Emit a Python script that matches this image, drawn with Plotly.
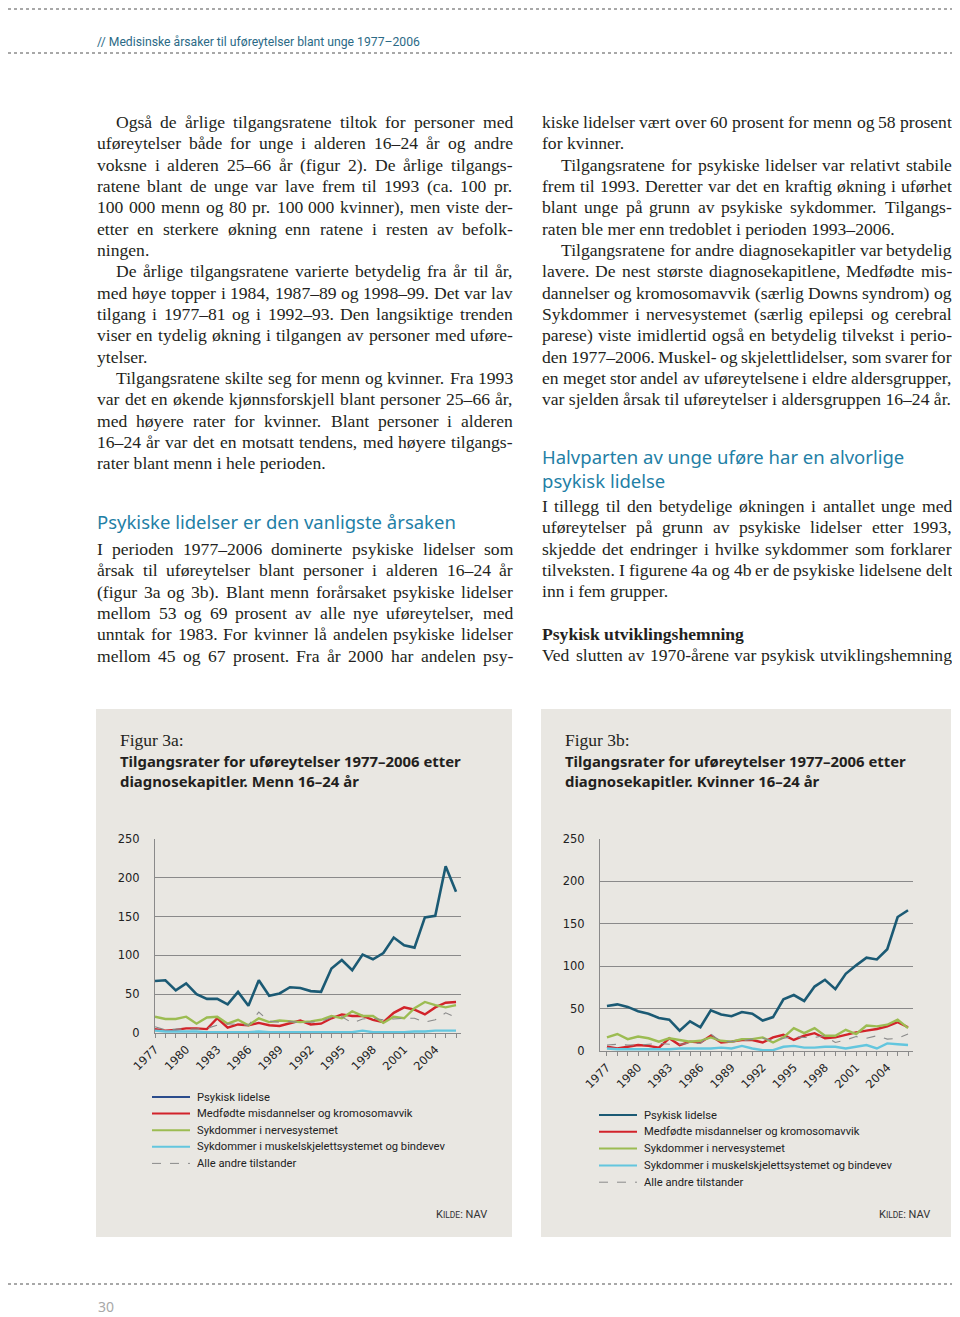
import plotly.graph_objects as go

# the page body adds an 8px margin, so the figure is drawn smaller and shifted
OFF = 8
W, H = 960 - OFF, 1317 - OFF
RIGHT_EDGE = 951  # content past ~952px is clipped by the page

years = list(range(1977, 2007))

series_names = [
    "Psykisk lidelse",
    "Medfødte misdannelser og kromosomavvik",
    "Sykdommer i nervesystemet",
    "Sykdommer i muskelskjelettsystemet og bindevev",
    "Alle andre tilstander",
]

# Figur 3a - menn 16-24 aar
menn_psykisk = [67, 68, 55, 64, 50, 44, 44, 37, 53, 35, 68, 48, 51, 59, 58, 54, 53, 83, 94, 81,
                101, 95, 103, 123, 113, 110, 149, 151, 215, 182]
menn_medfodte = [5, 3, 4, 6, 6, 5, 19, 7, 11, 10, 13, 10, 9, 13, 16, 11, 12, 19, 24, 22,
                 22, 17, 14, 26, 33, 30, 24, 33, 39, 40]
menn_nerve = [21, 18, 18, 21, 12, 20, 21, 12, 17, 10, 19, 14, 16, 15, 14, 15, 17, 22, 19, 28,
              22, 22, 13, 21, 19, 32, 40, 36, 33, 36]
menn_muskel = [3, 2, 2, 2, 2, 1, 1, 1, 1, 1, 2, 1, 1, 1, 1, 1, 1, 1, 1, 1,
               3, 1, 1, 1, 1, 2, 2, 3, 3, 3]
menn_andre = [8, 4, 5, 5, 5, 6, 10, 12, 11, 10, 27, 15, 14, 15, 13, 14, 15, 20, 21, 13,
              18, 19, 17, 18, 19, 19, 14, 17, 26, 20]

# Figur 3b - kvinner 16-24 aar
kvinner_psykisk = [53, 55, 52, 47, 44, 39, 37, 24, 35, 28, 48, 43, 41, 46, 44, 36, 40, 61, 66, 59,
                   76, 84, 73, 91, 101, 110, 108, 120, 158, 166]
kvinner_medfodte = [5, 3, 5, 7, 6, 4, 15, 7, 11, 10, 18, 10, 11, 13, 13, 10, 16, 19, 13, 18,
                    21, 15, 16, 19, 22, 24, 26, 29, 34, 28]
kvinner_nerve = [16, 20, 14, 17, 15, 11, 15, 13, 11, 12, 16, 12, 11, 14, 14, 16, 10, 16, 27, 21,
                 27, 18, 18, 25, 20, 30, 29, 31, 37, 27]
kvinner_muskel = [3, 2, 2, 2, 2, 2, 2, 3, 3, 3, 3, 4, 3, 6, 3, 1, 1, 5, 6, 4,
                  4, 5, 5, 3, 5, 7, 3, 9, 8, 7]
kvinner_andre = [7, 8, 7, 7, 8, 9, 8, 8, 9, 9, 20, 11, 11, 12, 14, 15, 12, 15, 17, 16,
                 16, 18, 10, 13, 17, 15, 18, 14, 15, 20]

y_ticks = [0, 50, 100, 150, 200, 250]

header_text = "// Medisinske årsaker til uføreytelser blant unge 1977–2006"

# (line, indented, justified)
left_block1 = [
    ("Også de årlige tilgangsratene tiltok for personer med", True, True),
    ("uføreytelser både for unge i alderen 16–24 år og andre", False, True),
    ("voksne i alderen 25–66 år (figur 2). De årlige tilgangs-", False, True),
    ("ratene blant de unge var lave frem til 1993 (ca. 100 pr.", False, True),
    ("100 000 menn og 80 pr. 100 000 kvinner), men viste der-", False, True),
    ("etter en sterkere økning enn ratene i resten av befolk-", False, True),
    ("ningen.", False, False),
    ("De årlige tilgangsratene varierte betydelig fra år til år,", True, True),
    ("med høye topper i 1984, 1987–89 og 1998–99. Det var lav", False, True),
    ("tilgang i 1977–81 og i 1992–93. Den langsiktige trenden", False, True),
    ("viser en tydelig økning i tilgangen av personer med uføre-", False, True),
    ("ytelser.", False, False),
    ("Tilgangsratene skilte seg for menn og kvinner. Fra 1993", True, True),
    ("var det en økende kjønnsforskjell blant personer 25–66 år,", False, True),
    ("med høyere rater for kvinner. Blant personer i alderen", False, True),
    ("16–24 år var det en motsatt tendens, med høyere tilgangs-", False, True),
    ("rater blant menn i hele perioden.", False, False),
]
left_heading = "Psykiske lidelser er den vanligste årsaken"
left_block2 = [
    ("I perioden 1977–2006 dominerte psykiske lidelser som", False, True),
    ("årsak til uføreytelser blant personer i alderen 16–24 år", False, True),
    ("(figur 3a og 3b). Blant menn forårsaket psykiske lidelser", False, True),
    ("mellom 53 og 69 prosent av alle nye uføreytelser, med", False, True),
    ("unntak for 1983. For kvinner lå andelen psykiske lidelser", False, True),
    ("mellom 45 og 67 prosent. Fra år 2000 har andelen psy-", False, True),
]
right_block1 = [
    ("kiske lidelser vært over 60 prosent for menn og 58 prosent", False, True),
    ("for kvinner.", False, False),
    ("Tilgangsratene for psykiske lidelser var relativt stabile", True, True),
    ("frem til 1993. Deretter var det en kraftig økning i uførhet", False, True),
    ("blant unge på grunn av psykiske sykdommer. Tilgangs-", False, True),
    ("raten ble mer enn tredoblet i perioden 1993–2006.", False, False),
    ("Tilgangsratene for andre diagnosekapitler var betydelig", True, True),
    ("lavere. De nest største diagnosekapitlene, Medfødte mis-", False, True),
    ("dannelser og kromosomavvik (særlig Downs syndrom) og", False, True),
    ("Sykdommer i nervesystemet (særlig epilepsi og cerebral", False, True),
    ("parese) viste imidlertid også en betydelig tilvekst i perio-", False, True),
    ("den 1977–2006. Muskel- og skjelettlidelser, som svarer for", False, True),
    ("en meget stor andel av uføreytelsene i eldre aldersgrupper,", False, True),
    ("var sjelden årsak til uføreytelser i aldersgruppen 16–24 år.", False, False),
]
right_heading = ["Halvparten av unge uføre har en alvorlige", "psykisk lidelse"]
right_block2 = [
    ("I tillegg til den betydelige økningen i antallet unge med", False, True),
    ("uføreytelser på grunn av psykiske lidelser etter 1993,", False, True),
    ("skjedde det endringer i hvilke sykdommer som forklarer", False, True),
    ("tilveksten. I figurene 4a og 4b er de psykiske lidelsene delt", False, True),
    ("inn i fem grupper.", False, False),
]
right_subheading = "Psykisk utviklingshemning"
right_block3 = [
    ("Ved slutten av 1970-årene var psykisk utviklingshemning", False, True),
]

fig_titles = [
    ("Figur 3a:", "Tilgangsrater for uføreytelser 1977–2006 etter", "diagnosekapitler. Menn 16–24 år"),
    ("Figur 3b:", "Tilgangsrater for uføreytelser 1977–2006 etter", "diagnosekapitler. Kvinner 16–24 år"),
]

colors = ["#1b5a74", "#d2232a", "#9cbc52", "#63c6de", "#8a8a8a"]
widths = [2.6, 2.4, 2.4, 2.4, 1.1]
dashes = ["solid", "solid", "solid", "solid", "dash"]

SERIF = "Liberation Serif, Times New Roman, serif"
SANS = "Noto Sans, DejaVu Sans, sans-serif"
NARROW = "Roboto, Noto Sans, sans-serif"
TEAL = "#1f80a6"
BOX = "#e9e7e2"
BODY = 17.6

# Times metrics (1/1000 em), used to justify the body text
TIMES_W = {" ": 250, ",": 250, ".": 250, "-": 333, "(": 333, ")": 333, ":": 278, "–": 500,
           "a": 444, "b": 500, "c": 444, "d": 500, "e": 444, "f": 333, "g": 500, "h": 500,
           "i": 278, "j": 278, "k": 500, "l": 278, "m": 778, "n": 500, "o": 500, "p": 500,
           "q": 500, "r": 333, "s": 389, "t": 278, "u": 500, "v": 500, "w": 722, "x": 500,
           "y": 500, "z": 444, "å": 444, "ø": 500, "æ": 667,
           "A": 722, "B": 667, "C": 667, "D": 722, "E": 611, "F": 556, "G": 722, "H": 722,
           "I": 333, "J": 389, "K": 722, "L": 611, "M": 889, "N": 722, "O": 722, "P": 556,
           "R": 667, "S": 556, "T": 611, "U": 722, "V": 722, "W": 944, "Y": 722}


def tw(s, size=BODY):
    return sum(TIMES_W.get(c, 500) for c in s) * size / 1000


def px(x):
    return (x - OFF) / W


def py(y):
    return 1 - (y - OFF) / H


fig = go.Figure()
annotations = []
shapes = []


def text(x, y, s, size, font=SERIF, color="#231f20", xanchor="left", yanchor="middle"):
    annotations.append(dict(
        x=px(x), y=py(y), xref="paper", yref="paper", text=s, showarrow=False,
        xanchor=xanchor, yanchor=yanchor, align="left", borderpad=0,
        font=dict(family=font, size=size, color=color),
    ))


def dotted(y):
    shapes.append(dict(type="line", xref="paper", yref="paper", x0=0, x1=1, y0=py(y), y1=py(y),
                       line=dict(color="#8c8c8c", width=1.6, dash="dot")))


def block(lines, x, x_end, y0, step=21.33):
    for i, (s, indent, just) in enumerate(lines):
        y = y0 + i * step
        xs = x + (19 if indent else 0)
        if not just:
            text(xs, y, s, BODY)
            continue
        words = s.split(" ")
        ww = [tw(w) for w in words]
        gap = (x_end - xs - sum(ww)) / (len(words) - 1)
        cx = xs
        for w, wd in zip(words, ww):
            text(cx, y, w, BODY)
            cx += wd + gap


# page header / footer
dotted(9)
dotted(53)
dotted(1284)
text(96, 42, header_text, 12.2, font="Liberation Sans Narrow, Roboto, sans-serif", color="#2b6a86")
text(97, 1306, "30", 14, font=SANS, color="#a8a8a8")

block(left_block1, 96, 512, 122)
text(96, 521, left_heading, 18.5, font=SANS, color=TEAL)
block(left_block2, 96, 512, 549)
block(right_block1, 541, RIGHT_EDGE, 122)
text(541, 468, right_heading[0] + "<br>" + right_heading[1], 18.5, font=SANS, color=TEAL)
block(right_block2, 541, RIGHT_EDGE, 506)
text(541, 634, "<b>" + right_subheading + "</b>", BODY)
block(right_block3, 541, RIGHT_EDGE, 655)

# figure panels
panels = [
    dict(box=(96, 512), x0=155, x1=461, xr=(1977, 2006.48), y0=1033, y1=839,
         data=[menn_psykisk, menn_medfodte, menn_nerve, menn_muskel, menn_andre],
         leg_x=152, leg_y=1097, leg_step=16.6, kilde_x=488, leg_first="#2b4c8c"),
    dict(box=(541, RIGHT_EDGE), x0=600, x1=913, xr=(1976.33, 2006.48), y0=1051, y1=839,
         data=[kvinner_psykisk, kvinner_medfodte, kvinner_nerve, kvinner_muskel, kvinner_andre],
         leg_x=599, leg_y=1115, leg_step=16.8, kilde_x=931, leg_first=colors[0]),
]

for k, p in enumerate(panels):
    bx0, bx1 = p["box"]
    shapes.append(dict(type="rect", xref="paper", yref="paper", layer="below",
                       x0=px(bx0), x1=px(bx1), y0=py(1237), y1=py(709),
                       fillcolor=BOX, line=dict(width=0)))
    t0, t1, t2 = fig_titles[k]
    text(bx0 + 23, 740, t0, 17.5)
    text(bx0 + 23, 761, "<b>" + t1 + "</b>", 14.9, font=SANS)
    text(bx0 + 23, 781, "<b>" + t2 + "</b>", 14.9, font=SANS)

    sfx = "" if k == 0 else "2"
    for i, vals in enumerate(p["data"]):
        fig.add_trace(go.Scatter(
            x=years, y=vals, mode="lines", name=series_names[i], showlegend=False,
            line=dict(color=colors[i], width=widths[i], dash=dashes[i]),
            xaxis="x" + sfx, yaxis="y" + sfx,
        ))

    xa = dict(
        domain=[px(p["x0"]), px(p["x1"])], range=list(p["xr"]), anchor="y" + sfx,
        automargin=False,
        tickmode="array", tickvals=years,
        ticktext=[str(y) if (y - 1977) % 3 == 0 else "" for y in years],
        tickangle=-45, ticks="outside", ticklen=4, tickcolor="#8a8a8a",
        showline=True, linecolor="#8a8a8a", linewidth=1.2, showgrid=False, zeroline=False,
        tickfont=dict(family="DejaVu Sans, sans-serif", size=11.5, color="#222"),
    )
    ya = dict(
        domain=[py(p["y0"]), py(p["y1"])], range=[0, 250], anchor="x" + sfx,
        automargin=False,
        tickmode="array", tickvals=y_ticks, ticks="", ticklabelstandoff=12,
        showline=True, linecolor="#8a8a8a", linewidth=1.2,
        showgrid=True, gridcolor="#8a8a8a", gridwidth=1.2, zeroline=False,
        tickfont=dict(family="DejaVu Sans, sans-serif", size=11.5, color="#222"),
    )
    fig.update_layout({"xaxis" + sfx: xa, "yaxis" + sfx: ya})

    # legend
    for i, name in enumerate(series_names):
        yy = p["leg_y"] + i * p["leg_step"]
        c = p["leg_first"] if i == 0 else colors[i]
        shapes.append(dict(type="line", xref="paper", yref="paper",
                           x0=px(p["leg_x"]), x1=px(p["leg_x"] + 38), y0=py(yy), y1=py(yy),
                           line=dict(color=c, width=2 if i < 4 else 1, dash=dashes[i])))
        text(p["leg_x"] + 44, yy, name, 11.2, font=NARROW, color="#222")

    text(p["kilde_x"], 1214, "K<span style='font-size:8.5px'>ILDE</span>: NAV", 11,
         font="Liberation Sans Narrow, Roboto, sans-serif", color="#333", xanchor="right")

fig.update_layout(
    width=W, height=H, margin=dict(l=0, r=0, t=0, b=0, pad=0, autoexpand=False),
    paper_bgcolor="white", plot_bgcolor="rgba(0,0,0,0)",
    showlegend=False, annotations=annotations, shapes=shapes,
)

fig.write_html("out.html")
